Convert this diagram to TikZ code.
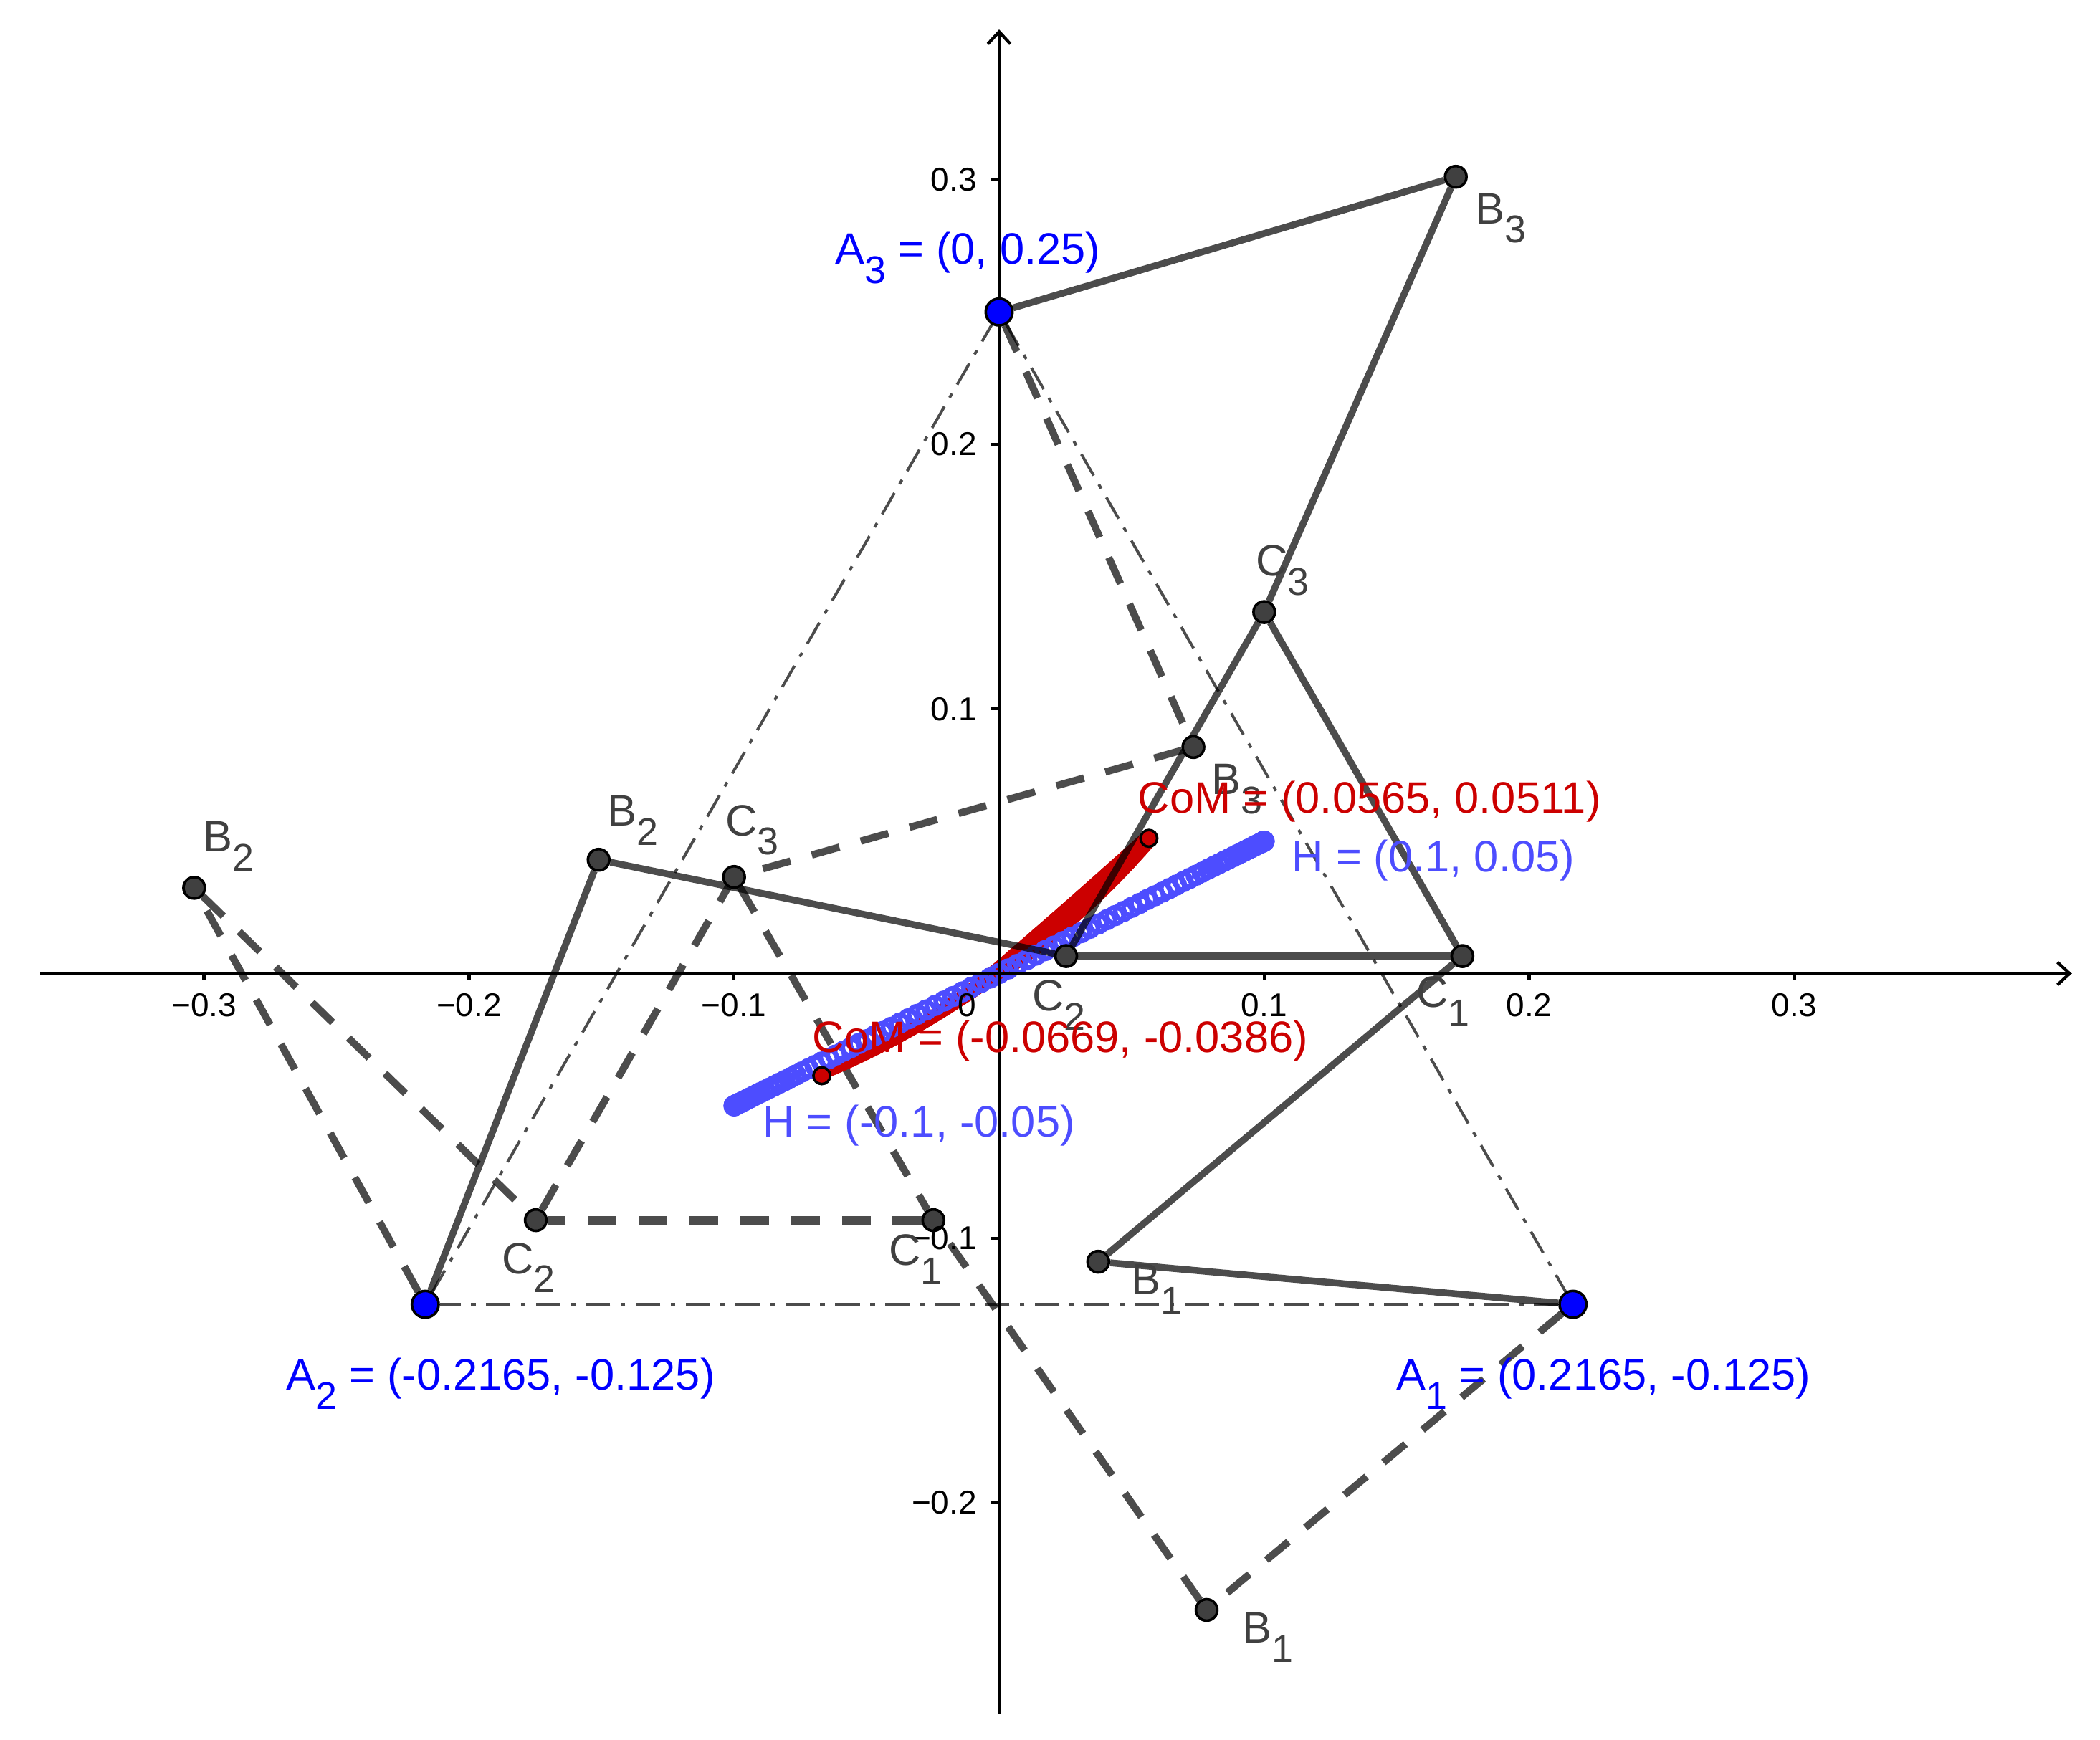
\documentclass[tikz,border=0pt]{standalone}
\usepackage{fontspec}
\setmainfont{Liberation Sans}
\usetikzlibrary{arrows.meta,backgrounds}
\definecolor{dotgray}{HTML}{404040}
\definecolor{comred}{HTML}{CC0000}
\definecolor{hblue}{HTML}{4D4DFF}
\newcommand{\subl}[2]{#1\raisebox{-4.1pt}{\fontsize{8.2}{8.2}\selectfont #2}}
\begin{document}
\begin{tikzpicture}[x=19.79cm, y=19.76cm,
        axis/.style = {line width=0.65pt, black},
        tick/.style = {line width=0.65pt, black},
        ticklab/.style = {inner sep=0, font=\fontsize{7}{8}\selectfont, black},
        solidedge/.style = {line width=1.45pt, black, opacity=0.7},
        dashedge/.style = {line width=1.55pt, black, opacity=0.7, dash pattern=on 6.1pt off 4.7pt},
        frameedge/.style = {line width=0.6pt, black, opacity=0.7, dash pattern=on 5.2pt off 2.2pt on 1pt off 2.2pt},
        gdot/.style = {circle, draw=black, line width=0.55pt, fill=dotgray, inner sep=0, minimum size=0.16cm},
        adot/.style = {circle, draw=black, line width=0.55pt, fill=blue, inner sep=0, minimum size=0.2cm},
        rdot/.style = {circle, draw=black, line width=0.55pt, fill=comred, inner sep=0, minimum size=0.125cm},
        lab/.style = {anchor=base west, inner sep=0, font=\fontsize{9.35}{11}\selectfont},
        graylab/.style = {lab, text=dotgray},
        bluelab/.style = {lab, text=blue},
        redlab/.style = {lab, text=comred},
        hlab/.style = {lab, text=hblue}]
    \useasboundingbox (-7.46cm,-5.72cm) rectangle (8.22cm,7.27cm);

    \node[adot] (A1) at (0.2165,-0.125) {};
    \node[adot] (A2) at (-0.2165,-0.125) {};
    \node[adot] (A3) at (0,0.25) {};

    \node[gdot] (B1s) at (0.0374,-0.1089) {};
    \node[gdot] (B2s) at (-0.1511,0.043) {};
    \node[gdot] (B3s) at (0.1723,0.3011) {};
    \node[gdot] (C1s) at (0.1748,0.0066) {};
    \node[gdot] (C2s) at (0.0253,0.0066) {};
    \node[gdot] (C3s) at (0.1,0.1366) {};

    \node[gdot] (B1d) at (0.0783,-0.2405) {};
    \node[gdot] (B2d) at (-0.3037,0.0324) {};
    \node[gdot] (B3d) at (0.0733,0.0856) {};
    \node[gdot] (C1d) at (-0.0248,-0.0932) {};
    \node[gdot] (C2d) at (-0.1748,-0.0932) {};
    \node[gdot] (C3d) at (-0.1,0.0365) {};

    \node[rdot] (CoMa) at (0.0565,0.0511) {};
    \node[rdot] (CoMb) at (-0.0669,-0.0386) {};

    \coordinate (xmin) at (-7.16cm,0);
    \coordinate (xmax) at (8.01cm,0);
    \coordinate (ymin) at (0,-5.53cm);
    \coordinate (ymax) at (0,7.05cm);

    \begin{scope}[on background layer]
        \draw[frameedge] (A1) -- (A2);
        \draw[frameedge] (A2) -- (A3);
        \draw[frameedge] (A3) -- (A1);

        \draw[dashedge] (A1) -- (B1d);
        \draw[dashedge] (B1d) -- (C1d);
        \draw[dashedge] (A2) -- (B2d);
        \draw[dashedge] (B2d) -- (C2d);
        \draw[dashedge] (A3) -- (B3d);
        \draw[dashedge] (B3d) -- (C3d);
        \draw[dashedge, line width=1.8pt] (C1d) -- (C2d);
        \draw[dashedge] (C2d) -- (C3d);
        \draw[dashedge] (C3d) -- (C1d);

        \foreach \s in {-1,-0.99,...,1.001} {
            \pgfmathsetmacro{\rad}{\s<0 ? 6+2.7*\s : 6+11.5*\s-11*\s*\s}
            \fill[comred] ({0.0617*\s-0.0052},{0.04485*\s+0.0091*\s*\s-0.00285}) circle[radius={0.01cm*\rad}];
        }
        \foreach \t in {-90,-88,...,90}
            \draw[hblue, line width=1pt] ({0.1*sin(\t)},{0.05*sin(\t)}) circle[radius=0.062cm];

        \draw[axis, -{Straight Barb[length=2.6pt,width=4.8pt]}] (xmin) -- (xmax);
        \draw[axis, -{Straight Barb[length=2.6pt,width=4.8pt]}] (ymin) -- (ymax);

        \draw[solidedge] (A1) -- (B1s);
        \draw[solidedge] (B1s) -- (C1s);
        \draw[solidedge] (A2) -- (B2s);
        \draw[solidedge] (B2s) -- (C2s);
        \draw[solidedge] (A3) -- (B3s);
        \draw[solidedge] (B3s) -- (C3s);
        \draw[solidedge] (C1s) -- (C2s);
        \draw[solidedge] (C2s) -- (C3s);
        \draw[solidedge] (C3s) -- (C1s);
    \end{scope}

    \foreach \v/\t/\n in {-0.3/−0.3/1, -0.2/−0.2/2, -0.1/−0.1/3, 0.1/0.1/4, 0.2/0.2/5, 0.3/0.3/6} {
        \draw[tick] (\v,0) -- (\v,-0.05cm);
        \node[ticklab] (xt\n) at (\v,-0.235cm) {\t};
    }
    \foreach \v/\t/\n in {-0.2/−0.2/1, -0.1/−0.1/2, 0.1/0.1/3, 0.2/0.2/4, 0.3/0.3/5} {
        \draw[tick] (0,\v) -- (-0.06cm,\v);
        \node[ticklab, anchor=east] (yt\n) at (-0.16cm,\v) {\t};
    }
    \node[ticklab] (zero) at (-0.24cm,-0.235cm) {0};

    \node[graylab] (lB3s) at (3.55cm,5.60cm) {\subl{B}{3}};
    \node[graylab] (lC3s) at (1.91cm,2.97cm) {\subl{C}{3}};
    \node[graylab] (lB3d) at (1.58cm,1.34cm) {\subl{B}{3}};
    \node[graylab] (lC3d) at (-2.05cm,1.03cm) {\subl{C}{3}};
    \node[graylab] (lB2s) at (-2.93cm,1.10cm) {\subl{B}{2}};
    \node[graylab] (lB2d) at (-5.95cm,0.91cm) {\subl{B}{2}};
    \node[graylab] (lC2s) at (0.24cm,-0.28cm) {\subl{C}{2}};
    \node[graylab] (lC1s) at (3.11cm,-0.25cm) {\subl{C}{1}};
    \node[graylab] (lC2d) at (-3.72cm,-2.24cm) {\subl{C}{2}};
    \node[graylab] (lC1d) at (-0.83cm,-2.18cm) {\subl{C}{1}};
    \node[graylab] (lB1s) at (0.98cm,-2.40cm) {\subl{B}{1}};
    \node[graylab] (lB1d) at (1.81cm,-5.00cm) {\subl{B}{1}};

    \node[bluelab] (lA3) at (-1.23cm,5.30cm) {\subl{A}{3} = (0, 0.25)};
    \node[bluelab] (lA2) at (-5.33cm,-3.11cm) {\subl{A}{2} = (-0.2165, -0.125)};
    \node[bluelab] (lA1) at (2.96cm,-3.11cm) {\subl{A}{1} = (0.2165, -0.125)};

    \node[redlab] (lCoMa) at (1.03cm,1.20cm) {CoM = (0.0565, 0.0511)};
    \node[redlab] (lCoMb) at (-1.40cm,-0.59cm) {CoM = (-0.0669, -0.0386)};
    \node[hlab] (lHa) at (2.18cm,0.76cm) {H = (0.1, 0.05)};
    \node[hlab] (lHb) at (-1.77cm,-1.22cm) {H = (-0.1, -0.05)};
\end{tikzpicture}
\end{document}
